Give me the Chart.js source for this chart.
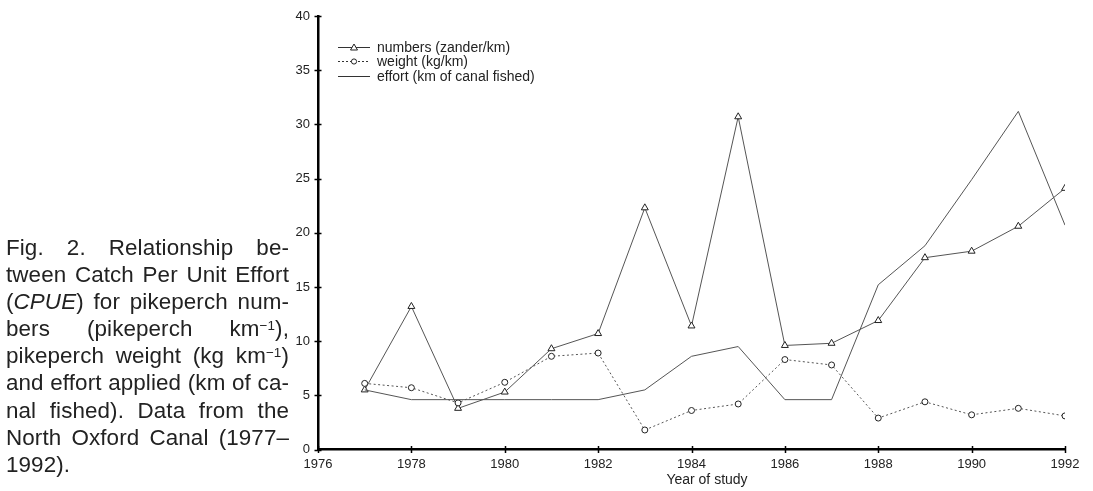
<!DOCTYPE html>
<html>
<head>
<meta charset="utf-8">
<script src="https://cdn.jsdelivr.net/npm/chart.js@4"></script>
<style>
  html, body { margin: 0; padding: 0; background: #fff; }
  body { width: 1093px; height: 491px; position: relative; overflow: hidden;
         font-family: "Liberation Sans", Arial, Helvetica, sans-serif; color: #111; }
  #chart { position: absolute; left: 0; top: 0; }
  .caption { position: absolute; left: 6px; top: 234px; width: 283px;
             font-size: 22.4px; line-height: 27.1px; color: #222; letter-spacing: 0.1px; }
  .caption div { text-align: justify; text-align-last: justify; white-space: nowrap; }
  .caption div.last { text-align: left; text-align-last: left; }
  .caption sup { font-size: 0.6em; vertical-align: baseline; position: relative; top: -0.5em; line-height: 0; }
  .legend { position: absolute; left: 338px; top: 40px; font-size: 14px; color: #222; }
  .legend .row { position: relative; height: 14.3px; line-height: 14.3px; white-space: nowrap; }
  .legend svg { position: absolute; left: 0; top: 2px; }
  .legend span { position: absolute; left: 39px; top: 0; }
  .xtitle { position: absolute; left: 707px; top: 471px; transform: translateX(-50%);
            font-size: 14px; color: #222; white-space: nowrap; }
</style>
</head>
<body>
<canvas id="chart" width="1093" height="491"></canvas>

<div class="caption">
  <div>Fig. 2. Relationship be-</div>
  <div>tween Catch Per Unit Effort</div>
  <div>(<i>CPUE</i>) for pikeperch num-</div>
  <div>bers (pikeperch km<sup>−1</sup>),</div>
  <div>pikeperch weight (kg km<sup>−1</sup>)</div>
  <div>and effort applied (km of ca-</div>
  <div>nal fished). Data from the</div>
  <div>North Oxford Canal (1977–</div>
  <div class="last">1992).</div>
</div>

<div class="legend">
  <div class="row">
    <svg width="34" height="10"><line x1="0" y1="5.5" x2="32" y2="5.5" stroke="#333" stroke-width="1"/>
      <polygon points="16,2 19.5,8 12.5,8" fill="#fff" stroke="#222" stroke-width="1"/></svg>
    <span>numbers (zander/km)</span>
  </div>
  <div class="row">
    <svg width="34" height="10"><line x1="0" y1="5.5" x2="32" y2="5.5" stroke="#333" stroke-width="1" stroke-dasharray="2,2"/>
      <circle cx="16" cy="5.5" r="2.6" fill="#fff" stroke="#222" stroke-width="1"/></svg>
    <span>weight (kg/km)</span>
  </div>
  <div class="row">
    <svg width="34" height="10"><line x1="0" y1="5.5" x2="32" y2="5.5" stroke="#333" stroke-width="1"/></svg>
    <span>effort (km of canal fished)</span>
  </div>
</div>

<div class="xtitle">Year of study</div>

<script>
// data
const years   = [1977, 1978, 1979, 1980, 1981, 1982, 1983, 1984, 1985, 1986, 1987, 1988, 1989, 1990, 1991, 1992]
const numbers = [5.5, 13.2, 3.8, 5.3, 9.3, 10.7, 22.3, 11.4, 30.7, 9.6, 9.8, 11.9, 17.7, 18.3, 20.6, 24.1]
const weight  = [6.1, 5.7, 4.3, 6.2, 8.6, 8.9, 1.8, 3.6, 4.2, 8.3, 7.8, 2.9, 4.4, 3.2, 3.8, 3.1]
const effort  = [5.5, 4.6, 4.6, 4.6, 4.6, 4.6, 5.5, 8.6, 9.5, 4.6, 4.6, 15.2, 18.8, 24.9, 31.2, 20.7]
const xTicks  = [1976, 1978, 1980, 1982, 1984, 1986, 1988, 1990, 1992]
const yTicks  = [0, 5, 10, 15, 20, 25, 30, 35, 40]

const pts = arr => arr.map((v, i) => ({ x: years[i], y: v }))

// ticks that cross the axis lines, like the printed figure
const crossTicks = {
  id: 'crossTicks',
  afterDraw(chart) {
    const { ctx, scales: { x, y }, chartArea: a } = chart
    ctx.save()
    ctx.strokeStyle = '#000'
    ctx.lineWidth = 1.5
    ctx.beginPath()
    x.ticks.forEach(t => {
      const px = Math.round(x.getPixelForValue(t.value)) + 0.5
      ctx.moveTo(px, a.bottom - 3.5); ctx.lineTo(px, a.bottom + 3.5)
    })
    y.ticks.forEach(t => {
      const py = Math.round(y.getPixelForValue(t.value)) + 0.5
      ctx.moveTo(a.left - 3.5, py); ctx.lineTo(a.left + 3.5, py)
    })
    ctx.stroke()
    ctx.restore()
  }
}

Chart.defaults.font.family = '"Liberation Sans", Arial, Helvetica, sans-serif'
Chart.defaults.color = '#222'

new Chart(document.getElementById('chart'), {
  type: 'line',
  data: {
    datasets: [
      {
        label: 'effort (km of canal fished)',
        data: pts(effort),
        borderColor: '#555',
        borderWidth: 1,
        pointRadius: 0,
        tension: 0,
      },
      {
        label: 'weight (kg/km)',
        data: pts(weight),
        borderColor: '#555',
        borderWidth: 1,
        borderDash: [2, 2.5],
        pointStyle: 'circle',
        pointRadius: 3,
        pointBorderColor: '#222',
        pointBackgroundColor: '#fff',
        pointBorderWidth: 1,
        tension: 0,
      },
      {
        label: 'numbers (zander/km)',
        data: pts(numbers),
        borderColor: '#555',
        borderWidth: 1,
        pointStyle: 'triangle',
        pointRadius: 4,
        pointBorderColor: '#222',
        pointBackgroundColor: '#fff',
        pointBorderWidth: 1,
        tension: 0,
      }
    ]
  },
  options: {
    responsive: false,
    animation: false,
    devicePixelRatio: 1,
    layout: { padding: { left: 0, top: 16, right: 28, bottom: 0 } },
    plugins: { legend: { display: false }, tooltip: { enabled: false } },
    scales: {
      x: {
        type: 'linear',
        min: 1976, max: 1992,
        afterBuildTicks: s => { s.ticks = xTicks.map(v => ({ value: v })) },
        afterFit: s => { s.height = 41.5 },
        ticks: { font: { size: 13 }, color: '#222', padding: 7, maxRotation: 0, callback: v => String(v) },
        grid: { display: false, drawTicks: false },
        border: { color: '#000', width: 2.5 }
      },
      y: {
        min: 0, max: 40,
        afterBuildTicks: s => { s.ticks = yTicks.map(v => ({ value: v })) },
        afterFit: s => { s.width = 318 },
        ticks: { font: { size: 13 }, color: '#222', padding: 8 },
        grid: { display: false, drawTicks: false },
        border: { color: '#000', width: 2.5 }
      }
    }
  },
  plugins: [crossTicks]
})
</script>
</body>
</html>
